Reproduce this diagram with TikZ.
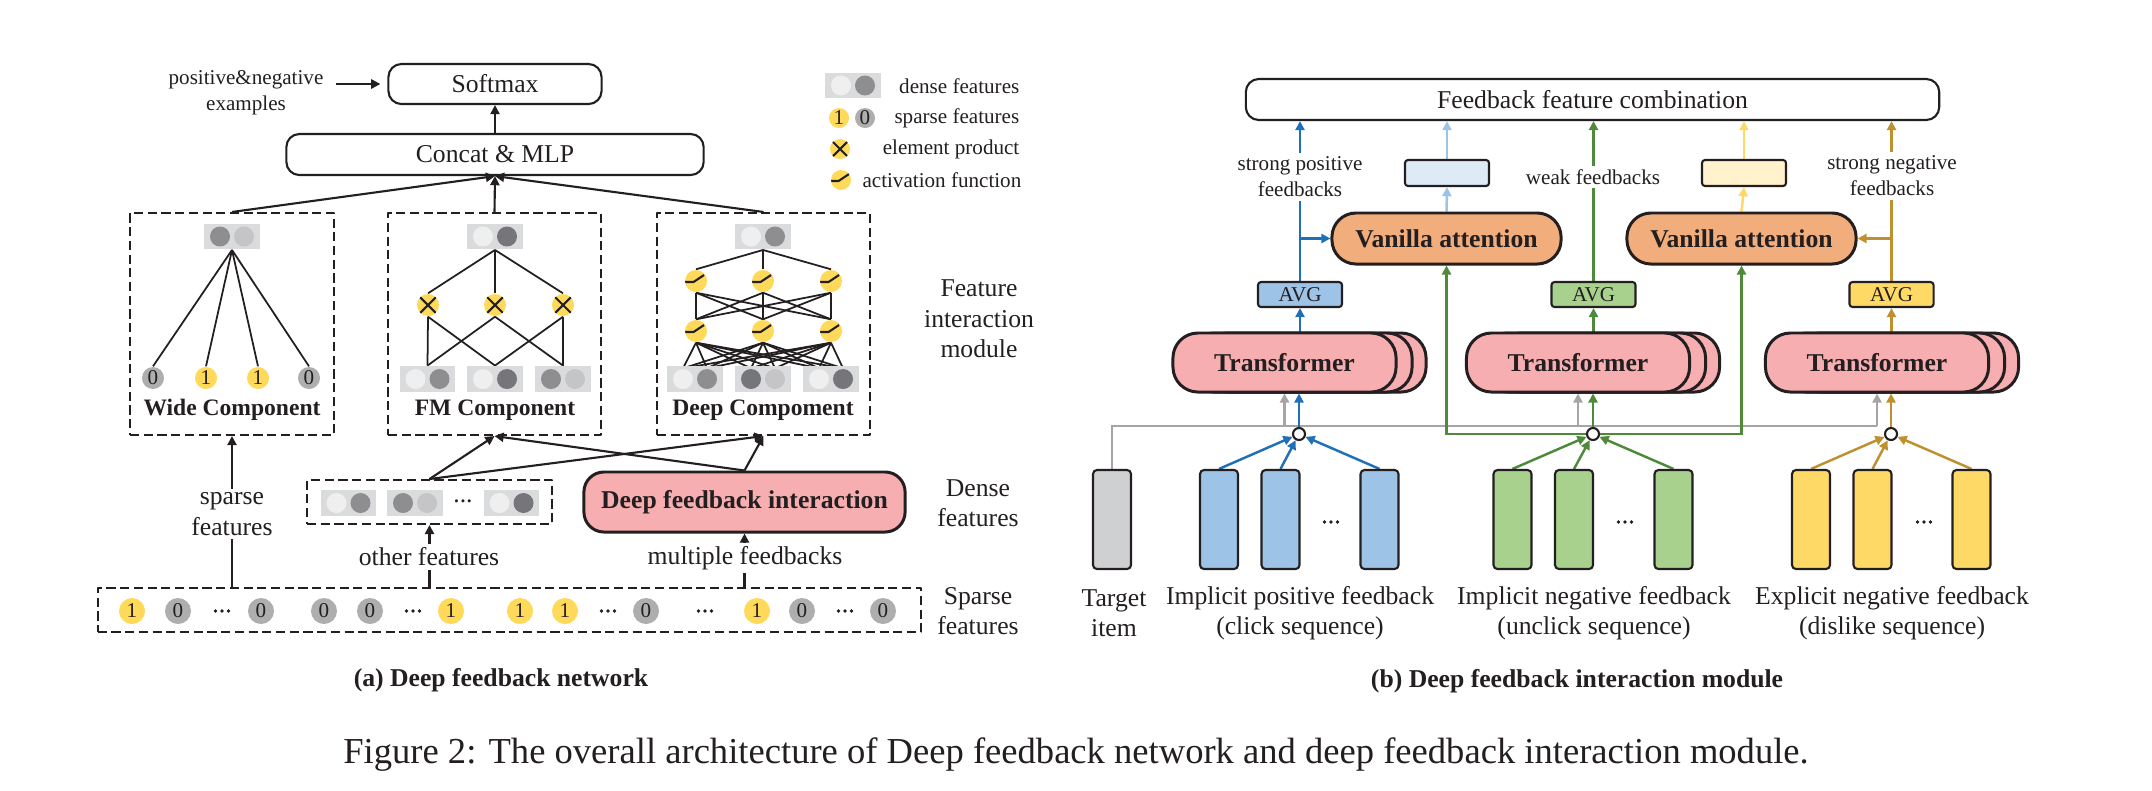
\documentclass[tikz,border=0pt]{standalone}
\usepackage{fontspec}
\setmainfont{Liberation Serif}
\usetikzlibrary{arrows.meta,calc}
\pgfdeclarelayer{bg}
\pgfsetlayers{bg,main}
\definecolor{yel}{HTML}{FFD95A}
\definecolor{spg}{HTML}{AEAEAE}
\definecolor{pbgc}{HTML}{DADBDC}
\definecolor{cL}{HTML}{EFEFEF}
\definecolor{cM}{HTML}{8E8E90}
\definecolor{cD}{HTML}{76767A}
\definecolor{cG}{HTML}{C5C5C7}
\definecolor{pinkf}{HTML}{F7AEB1}
\definecolor{orgf}{HTML}{F2AD7D}
\definecolor{bl}{HTML}{1F70B8}
\definecolor{lbl}{HTML}{9DC3E6}
\definecolor{blf}{HTML}{9DC3E6}
\definecolor{blsf}{HTML}{DEEBF7}
\definecolor{gr}{HTML}{4E8A3A}
\definecolor{grf}{HTML}{A9D18E}
\definecolor{yl}{HTML}{FFD966}
\definecolor{ylsf}{HTML}{FFF2CC}
\definecolor{gd}{HTML}{BF902E}
\definecolor{ga}{HTML}{A5A5A5}
\definecolor{tgf}{HTML}{CFD0D2}
\definecolor{ink}{HTML}{231F20}
\colorlet{sp1}{yel}
\colorlet{sp0}{spg}
\newcommand\fsA{\fontsize{7.3}{8.7}\selectfont}
\newcommand\fsB{\fontsize{6}{7.4}\selectfont}
\newcommand\fsC{\fontsize{10.4}{12}\selectfont}
\newcommand\fsD{\fontsize{6.7}{8}\selectfont}
\newcommand\dpair[5]{%
  \node[pairbg] (#1) at (#2,#3) {};
  \node[pc, fill=#4] (#1l) at ($(#1)+(-12,0)$) {};
  \node[pc, fill=#5] (#1r) at ($(#1)+(12,0)$) {};}
\begin{document}
\begin{tikzpicture}[x=0.01cm,y=-0.01cm, line join=round,
  tip/.tip={Triangle[length=2.6pt,width=2.6pt]},
  ln/.style={draw=ink, line width=0.5pt},
  arr/.style={draw=ink, line width=0.6pt, -tip},
  barr/.style={draw=bl, line width=0.7pt, -tip},
  lbarr/.style={draw=lbl, line width=0.7pt, -tip},
  grarr/.style={draw=gr, line width=0.7pt, -tip},
  gdarr/.style={draw=gd, line width=0.7pt, -tip},
  ylarr/.style={draw=yl, line width=0.7pt, -tip},
  garr/.style={draw=ga, line width=0.7pt, -tip},
  gline/.style={draw=ga, line width=0.7pt},
  rbox/.style={draw=ink, line width=0.6pt, rounded corners=0.13cm, inner sep=0, text=ink},
  dbox/.style={draw=ink, line width=0.55pt, dash pattern=on 2.6pt off 1.3pt, inner sep=0},
  pairbg/.style={rectangle, fill=pbgc, minimum width=0.55cm, minimum height=0.255cm, inner sep=0},
  pc/.style={circle, minimum size=0.2cm, inner sep=0},
  wsp/.style={circle, minimum size=0.22cm, inner sep=0, font=\fsB, text=ink},
  ssp/.style={circle, minimum size=0.26cm, inner sep=0, font=\fsB, text=ink},
  lsp/.style={circle, minimum size=0.2cm, inner sep=0, font=\fsB, text=ink},
  act/.style={circle, fill=yel, minimum size=0.22cm, inner sep=0, path picture={
    \draw[line width=0.6pt, ink] ([shift={(-11,1)}]path picture bounding box.center) -- ([shift={(-2.5,1)}]path picture bounding box.center) -- ([shift={(8,-6)}]path picture bounding box.center);}},
  prod/.style={circle, fill=yel, minimum size=0.22cm, inner sep=0, path picture={
    \draw[line width=0.6pt, ink] ([shift={(-8,-8)}]path picture bounding box.center) -- ([shift={(8,8)}]path picture bounding box.center)
    ([shift={(-8,8)}]path picture bounding box.center) -- ([shift={(8,-8)}]path picture bounding box.center);}},
  trans/.style={draw=ink, line width=0.85pt, fill=pinkf, rounded corners=0.25cm, minimum width=2.23cm, minimum height=0.59cm, inner sep=0, text=ink},
  van/.style={draw=ink, line width=0.85pt, fill=orgf, rounded corners=0.24cm, minimum width=2.29cm, minimum height=0.51cm, inner sep=0, font=\fsA\bfseries, text=ink},
  avgs/.style={draw=ink, line width=0.6pt, rounded corners=0.03cm, minimum width=0.84cm, minimum height=0.25cm, inner sep=0, font=\fsB, text=ink},
  sbox/.style={draw=ink, line width=0.6pt, rounded corners=0.03cm, minimum width=0.84cm, minimum height=0.26cm, inner sep=0},
  junc/.style={circle, draw=ink, fill=white, line width=0.6pt, minimum size=0.12cm, inner sep=0},
  bar/.style={draw=ink, line width=0.6pt, rounded corners=0.04cm, minimum width=0.38cm, minimum height=0.99cm, inner sep=0},
  lab/.style={fill=white, font=\fsB, align=center, inner sep=1pt, text=ink},
  labA/.style={fill=white, font=\fsA, align=center, inner sep=1pt, text=ink},
  txt/.style={font=\fsA, align=center, text=ink}
]
\useasboundingbox (0,0) rectangle (2152,790);

% ---------- left panel ----------
\node[rbox, minimum width=2.13cm, minimum height=0.40cm, font=\fsA] (softmax) at (495,84) {Softmax};
\node[rbox, minimum width=4.17cm, minimum height=0.41cm, font=\fsA] (concat) at (495,154.5) {Concat \& MLP};
\node[font=\fsB, align=center, text=ink] (pn) at (246,93) {positive\&negative\\examples};

\node[dbox, minimum width=2.04cm, minimum height=2.22cm] (wide) at (232,324) {};
\node[dbox, minimum width=2.13cm, minimum height=2.22cm] (fm) at (494.5,324) {};
\node[dbox, minimum width=2.13cm, minimum height=2.22cm] (deep) at (763.5,324) {};

% wide
\dpair{wt}{232}{236.5}{cM}{cG}
\foreach \x/\v [count=\i] in {153/0,206/1,258/1,309/0}
  \node[wsp, fill=sp\v] (w\i) at (\x,378) {\v};
\node[font=\fsD\bfseries, text=ink] (wlab) at (232,410) {Wide Component};

% fm
\dpair{ft}{495}{236.5}{cL}{cD}
\node[prod] (p1) at (428,305) {};
\node[prod] (p2) at (495,305) {};
\node[prod] (p3) at (563,305) {};
\dpair{fb1}{427.5}{379}{cL}{cM}
\dpair{fb2}{495}{379}{cL}{cD}
\dpair{fb3}{563}{379}{cM}{cG}
\node[font=\fsD\bfseries, text=ink] (flab) at (495,410) {FM Component};

% deep
\dpair{dt}{763}{236.5}{cL}{cM}
\foreach \i/\x in {1/696,2/763,3/831} {
  \node[act] (a\i) at (\x,281) {};
  \node[act] (b\i) at (\x,331) {};
}
\dpair{db1}{695}{379}{cL}{cM}
\dpair{db2}{763}{379}{cD}{cG}
\dpair{db3}{831}{379}{cL}{cD}
\node[font=\fsD\bfseries, text=ink] (dlab) at (763,410) {Deep Compoment};

\node[txt] (fim) at (979,319) {Feature\\interaction\\module};

% sparse row
\node[dbox, minimum width=8.23cm, minimum height=0.44cm] (sparse) at (509.5,610) {};
\foreach \x/\v [count=\i] in {132/1,178/0,261/0,324/0,370/0,451/1,520/1,565/1,646/0,757/1,802/0,883/0}
  \node[ssp, fill=sp\v] (s\i) at (\x,611) {\v};
\foreach \x in {222,413,608,705,845}
  \foreach \d in {-6.5,0,6.5}
    \fill[ink] (\x+\d,611) circle[radius=0.019cm];

% other dense
\node[dbox, minimum width=2.45cm, minimum height=0.44cm] (other) at (429.5,502) {};
\dpair{o1}{348.5}{503}{cL}{cM}
\dpair{o2}{415}{503}{cM}{cG}
\dpair{o3}{511.5}{503}{cL}{cD}
\node[font=\fsA, inner sep=0, text=ink] (odots) at (463,501) {...};

\node[draw=ink, line width=0.85pt, fill=pinkf, rounded corners=0.2cm, minimum width=3.21cm, minimum height=0.60cm, inner sep=0, font=\fsA\bfseries, text=ink] (dfi) at (744.5,502) {Deep feedback interaction};

\node[txt] (dfl) at (978,503) {Dense\\features};
\node[txt] (sfl2) at (978,611) {Sparse\\features};

% legend
\dpair{lg}{853}{85.5}{cL}{cM}
\node[font=\fsB, anchor=east, inner sep=0, text=ink] (lgt1) at (1020,86) {dense features};
\node[lsp, fill=sp1] (lg1) at (839,118) {1};
\node[lsp, fill=sp0] (lg0) at (865,118) {0};
\node[font=\fsB, anchor=east, inner sep=0, text=ink] (lgt2) at (1020,118) {sparse features};
\node[prod, minimum size=0.2cm] (lgp) at (840,149) {};
\node[font=\fsB, anchor=east, inner sep=0, text=ink] (lgt3) at (1020,149) {element product};
\node[act, minimum size=0.2cm] (lga) at (841,180) {};
\node[font=\fsB, anchor=east, inner sep=0, text=ink] (lgt4) at (1022,180) {activation function};

% ---------- right panel ----------
\node[rbox, minimum width=6.93cm, minimum height=0.41cm, font=\fsA] (comb) at (1592.5,99.5) {Feedback feature combination};

\foreach \n/\x in {1/1284.5,2/1578,3/1877} {
  \node[trans] (tc\n) at (\x+30,362.5) {};
  \node[trans] (tb\n) at (\x+16,362.5) {};
  \node[trans, font=\fsA\bfseries] (t\n) at (\x,362.5) {Transformer};
}
\node[avgs, fill=blf] (avg1) at (1300,294.5) {AVG};
\node[avgs, fill=grf] (avg2) at (1593.5,294.5) {AVG};
\node[avgs, fill=yl] (avg3) at (1891.5,294.5) {AVG};

\node[van] (v1) at (1446.5,238.5) {Vanilla attention};
\node[van] (v2) at (1741.5,238.5) {Vanilla attention};
\node[sbox, fill=blsf] (sb1) at (1447,173) {};
\node[sbox, fill=ylsf] (sb2) at (1744,173) {};

\node[junc] (j1) at (1299,434) {};
\node[junc] (j2) at (1593,434) {};
\node[junc] (j3) at (1891,434) {};

\node[bar, fill=tgf] (tg) at (1112,519.5) {};
\node[bar, fill=blf] (bb1) at (1219,519.5) {};
\node[bar, fill=blf] (bb2) at (1280.5,519.5) {};
\node[bar, fill=blf] (bb3) at (1379.5,519.5) {};
\node[bar, fill=grf] (gb1) at (1512.5,519.5) {};
\node[bar, fill=grf] (gb2) at (1574,519.5) {};
\node[bar, fill=grf] (gb3) at (1673.5,519.5) {};
\node[bar, fill=yl] (yb1) at (1811,519.5) {};
\node[bar, fill=yl] (yb2) at (1872.5,519.5) {};
\node[bar, fill=yl] (yb3) at (1971.5,519.5) {};
\foreach \x in {1331,1625,1924}
  \foreach \d in {-6.5,0,6.5}
    \fill[ink] (\x+\d,522) circle[radius=0.019cm];

\node[txt] (tgl) at (1114,613) {Target\\item};
\node[txt] (bll) at (1300,613) {Implicit positive feedback\\(click sequence)};
\node[txt] (grl) at (1594,613) {Implicit negative feedback\\(unclick sequence)};
\node[txt] (yll) at (1892,613) {Explicit negative feedback\\(dislike sequence)};

\coordinate (gl) at (1877,426);

% ---------- connectors ----------
\begin{pgfonlayer}{bg}
\draw[arr, shorten >=2pt] (pn.east |- softmax.west) -- (softmax.west);
\draw[arr] (concat.north) -- (softmax.south);
\draw[arr] (wide.north) -- (concat.south);
\draw[arr] (fm.north) -- (concat.south);
\draw[arr] (deep.north) -- (concat.south);
\foreach \i in {1,2,3,4} \draw[ln] (wt.south) -- (w\i.north);
\foreach \i in {1,2,3} \draw[ln] (ft.south) -- (p\i.north);
\draw[ln] (p1.south) -- (fb1.north);
\draw[ln] (p1.south) -- (fb2.north);
\draw[ln] (p2.south) -- (fb1.north);
\draw[ln] (p2.south) -- (fb3.north);
\draw[ln] (p3.south) -- (fb3.north);
\draw[ln] (p3.south) -- (fb2.north);
\foreach \i in {1,2,3} {
  \draw[ln] (dt.south) -- (a\i.north);
  \foreach \j in {1,2,3} \draw[ln] (a\i.south) -- (b\j.north);
  \foreach \k in {db1l,db1r,db2l,db2r,db3l,db3r} \draw[ln] (b\i.south) -- (\k.north);
}
\draw[arr] (wide.south |- sparse.north) -- (wide.south);
\draw[arr] (other.south |- sparse.north) -- (other.south);
\draw[arr] (dfi.south |- sparse.north) -- (dfi.south);
\draw[arr] (other.north) -- (fm.south);
\draw[arr] (other.north) -- (deep.south);
\draw[arr] (dfi.north) -- (deep.south);
\draw[arr] (dfi.north) -- (fm.south);

% right
\draw[gline] (tg.north) |- (gl);
\foreach \n in {1,2,3} \draw[garr] (t\n.south |- gl) -- (t\n.south);
\foreach \k in {1,2,3} \draw[barr] (bb\k.north) -- (j1);
\draw[barr] (j1.north) -- (j1.north |- t1.south);
\draw[barr] (avg1.south |- t1.north) -- (avg1.south);
\draw[barr] (avg1.north) -- (avg1.north |- comb.south);
\draw[barr] (avg1.north |- v1.west) -- (v1.west);
\draw[lbarr] (v1.north) -- (sb1.south);
\draw[lbarr] (sb1.north) -- (sb1.north |- comb.south);

\foreach \k in {1,2,3} \draw[grarr] (gb\k.north) -- (j2);
\draw[grarr] (j2.north) -- (j2.north |- t2.south);
\draw[grarr] (avg2.south |- t2.north) -- (avg2.south);
\draw[grarr] (avg2.north) -- (avg2.north |- comb.south);
\draw[draw=gr, line width=0.7pt, tip-tip] (v1.south) -- (v1.south |- j2) -- (v2.south |- j2) -- (v2.south);

\foreach \k in {1,2,3} \draw[gdarr] (yb\k.north) -- (j3);
\draw[gdarr] (j3.north) -- (j3.north |- t3.south);
\draw[gdarr] (avg3.south |- t3.north) -- (avg3.south);
\draw[gdarr] (avg3.north) -- (avg3.north |- comb.south);
\draw[gdarr] (avg3.north |- v2.east) -- (v2.east);
\draw[ylarr] (v2.north) -- (sb2.south);
\draw[ylarr] (sb2.north) -- (sb2.north |- comb.south);
\end{pgfonlayer}

% labels over lines
\node[labA] (sfl) at (232,514) {sparse\\features};
\node[labA] (ofl) at (429,557) {other features};
\node[labA] (mfl) at (745,558) {multiple feedbacks};
\node[lab] (l1) at (1300,177) {strong positive\\feedbacks};
\node[lab] (l2) at (1593,177) {weak feedbacks};
\node[lab] (l3) at (1892,176) {strong negative\\feedbacks};

% captions
\node[font=\fsA\bfseries, text=ink] (capa) at (501,680) {(a) Deep feedback network};
\node[font=\fsA\bfseries, text=ink] (capb) at (1577,681) {(b) Deep feedback interaction module};
\node[font=\fsC, text=ink] (cap) at (1076,755) {Figure 2: The overall architecture of Deep feedback network and deep feedback interaction module.};
\end{tikzpicture}
\end{document}
